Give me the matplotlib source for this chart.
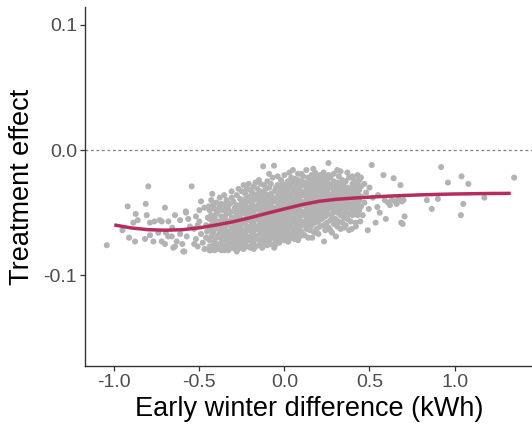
import matplotlib
matplotlib.use("Agg")
import matplotlib.pyplot as plt

plt.rcParams['font.family'] = ['Liberation Sans', 'DejaVu Sans']

# smoothed fit
curve_x = [-1.0, -0.9, -0.8, -0.7, -0.6, -0.5, -0.4, -0.3, -0.2, -0.1, 0.0, 0.1,
           0.2, 0.3, 0.4, 0.5, 0.6, 0.7, 0.8, 0.9, 1.0, 1.1, 1.2, 1.33]
curve_y = [-0.0598, -0.0622, -0.0636, -0.0640, -0.0636, -0.0621, -0.0598, -0.0572,
           -0.0540, -0.0504, -0.0470, -0.0437, -0.0410, -0.0394, -0.0384, -0.0376,
           -0.0369, -0.0363, -0.0358, -0.0354, -0.0351, -0.0349, -0.0347, -0.0346]

# household estimates
pts_left = [
    (-1.044, -0.076), (-0.952, -0.064), (-0.921, -0.045), (-0.913, -0.070), (-0.888, -0.058),
    (-0.878, -0.073), (-0.874, -0.051), (-0.862, -0.056), (-0.819, -0.071), (-0.815, -0.043),
    (-0.809, -0.052), (-0.800, -0.029), (-0.790, -0.058), (-0.790, -0.068), (-0.770, -0.073),
    (-0.764, -0.057), (-0.741, -0.066), (-0.733, -0.056), (-0.721, -0.057), (-0.721, -0.073),
    (-0.702, -0.046), (-0.702, -0.075), (-0.697, -0.066), (-0.683, -0.069), (-0.682, -0.057),
    (-0.662, -0.069), (-0.659, -0.062), (-0.653, -0.078), (-0.643, -0.052), (-0.643, -0.077),
    (-0.633, -0.073), (-0.613, -0.056), (-0.613, -0.067), (-0.600, -0.075), (-0.594, -0.081),
    (-0.588, -0.081), (-0.580, -0.049), (-0.578, -0.050), (-0.574, -0.069), (-0.565, -0.055),
    (-0.555, -0.061), (-0.545, -0.029),
]

pts_mid_left = [
    (-0.53, -0.063), (-0.52, -0.071), (-0.51, -0.077), (-0.50, -0.057), (-0.49, -0.067),
    (-0.48, -0.074), (-0.47, -0.079), (-0.50, -0.048), (-0.46, -0.060), (-0.46, -0.070),
    (-0.45, -0.054), (-0.47, -0.046), (-0.52, -0.053), (-0.44, -0.077), (-0.455, -0.065),
    (-0.49, -0.041), (-0.445, -0.045), (-0.424, -0.035), (-0.53, -0.075), (-0.51, -0.060),
    (-0.44, -0.080), (-0.44, -0.072), (-0.44, -0.064), (-0.44, -0.055), (-0.44, -0.048),
    (-0.43, -0.078), (-0.43, -0.069), (-0.43, -0.060), (-0.43, -0.052), (-0.43, -0.040),
    (-0.42, -0.076), (-0.42, -0.066), (-0.42, -0.058), (-0.42, -0.044),
    (-0.41, -0.080), (-0.41, -0.073), (-0.41, -0.063), (-0.41, -0.054), (-0.41, -0.047),
    (-0.40, -0.077), (-0.40, -0.070), (-0.40, -0.061), (-0.40, -0.051), (-0.40, -0.042),
    (-0.39, -0.079), (-0.39, -0.068), (-0.39, -0.057), (-0.39, -0.049),
    (-0.38, -0.075), (-0.38, -0.065), (-0.38, -0.059), (-0.38, -0.045), (-0.38, -0.038),
    (-0.37, -0.080), (-0.37, -0.071), (-0.37, -0.062), (-0.37, -0.053), (-0.37, -0.043),
    (-0.36, -0.076), (-0.36, -0.067), (-0.36, -0.056), (-0.36, -0.048), (-0.354, -0.036),
    (-0.35, -0.079), (-0.35, -0.072), (-0.35, -0.063), (-0.35, -0.054), (-0.35, -0.044),
    (-0.34, -0.077), (-0.34, -0.069), (-0.34, -0.060), (-0.34, -0.051), (-0.34, -0.040),
    (-0.33, -0.080), (-0.33, -0.073), (-0.33, -0.065), (-0.33, -0.057), (-0.33, -0.047),
    (-0.32, -0.075), (-0.32, -0.067), (-0.32, -0.058), (-0.32, -0.050), (-0.32, -0.043),
    (-0.31, -0.078), (-0.31, -0.070), (-0.31, -0.062), (-0.31, -0.054), (-0.31, -0.038),
    (-0.31, -0.033), (-0.28, -0.081),
    (-0.30, -0.074), (-0.30, -0.066), (-0.30, -0.059), (-0.30, -0.049), (-0.30, -0.041),
    (-0.29, -0.079), (-0.29, -0.071), (-0.29, -0.063), (-0.29, -0.055), (-0.29, -0.046),
    (-0.28, -0.076), (-0.28, -0.068), (-0.28, -0.060), (-0.28, -0.052), (-0.28, -0.044),
    (-0.28, -0.036), (-0.27, -0.073), (-0.27, -0.065), (-0.27, -0.057), (-0.27, -0.048),
    (-0.27, -0.031), (-0.26, -0.078), (-0.26, -0.070), (-0.26, -0.062), (-0.26, -0.054),
    (-0.26, -0.045), (-0.26, -0.039), (-0.25, -0.075), (-0.25, -0.067), (-0.25, -0.059),
    (-0.25, -0.050), (-0.25, -0.042), (-0.25, -0.033),
]

pts_centre = [
    (-0.24, -0.079), (-0.24, -0.071), (-0.24, -0.064), (-0.24, -0.056), (-0.24, -0.047),
    (-0.24, -0.040), (-0.24, -0.028), (-0.23, -0.074), (-0.23, -0.066), (-0.23, -0.058),
    (-0.23, -0.051), (-0.23, -0.043), (-0.23, -0.035), (-0.22, -0.077), (-0.22, -0.069),
    (-0.22, -0.061), (-0.22, -0.053), (-0.22, -0.046), (-0.22, -0.038), (-0.22, -0.031),
    (-0.21, -0.072), (-0.21, -0.064), (-0.21, -0.056), (-0.21, -0.049), (-0.21, -0.041),
    (-0.21, -0.027), (-0.20, -0.078), (-0.20, -0.070), (-0.20, -0.062), (-0.20, -0.054),
    (-0.20, -0.046), (-0.20, -0.037), (-0.20, -0.032), (-0.19, -0.075), (-0.19, -0.067),
    (-0.19, -0.059), (-0.19, -0.051), (-0.19, -0.044), (-0.19, -0.034), (-0.18, -0.073),
    (-0.18, -0.065), (-0.18, -0.057), (-0.18, -0.049), (-0.18, -0.040), (-0.18, -0.029),
    (-0.18, -0.079), (-0.17, -0.026),
    (-0.17, -0.077), (-0.17, -0.069), (-0.17, -0.061), (-0.17, -0.053), (-0.17, -0.045),
    (-0.17, -0.036), (-0.16, -0.071), (-0.16, -0.063), (-0.16, -0.055), (-0.16, -0.047),
    (-0.16, -0.039), (-0.16, -0.031), (-0.15, -0.076), (-0.15, -0.068), (-0.15, -0.060),
    (-0.15, -0.052), (-0.15, -0.043), (-0.15, -0.035), (-0.15, -0.024),
    (-0.14, -0.073), (-0.14, -0.065), (-0.14, -0.057), (-0.14, -0.049), (-0.14, -0.041),
    (-0.14, -0.033), (-0.14, -0.027), (-0.13, -0.078), (-0.13, -0.070), (-0.13, -0.062),
    (-0.13, -0.054), (-0.13, -0.046), (-0.13, -0.038), (-0.125, -0.013), (-0.12, -0.074),
    (-0.12, -0.066), (-0.12, -0.058), (-0.12, -0.050), (-0.12, -0.042), (-0.12, -0.034),
    (-0.12, -0.028), (-0.11, -0.071), (-0.11, -0.063), (-0.11, -0.055), (-0.11, -0.047),
    (-0.11, -0.039), (-0.11, -0.031), (-0.10, -0.076), (-0.10, -0.068), (-0.10, -0.060),
    (-0.10, -0.052), (-0.10, -0.044), (-0.10, -0.036), (-0.10, -0.025), (-0.09, -0.072),
    (-0.09, -0.064), (-0.09, -0.056), (-0.09, -0.048), (-0.09, -0.040), (-0.09, -0.030),
    (-0.09, -0.019),
    (-0.08, -0.075), (-0.08, -0.067), (-0.08, -0.059), (-0.08, -0.051), (-0.08, -0.043),
    (-0.08, -0.035), (-0.08, -0.027), (-0.07, -0.070), (-0.07, -0.062), (-0.07, -0.054),
    (-0.07, -0.046), (-0.07, -0.038), (-0.07, -0.022), (-0.06, -0.076), (-0.06, -0.066),
    (-0.06, -0.058), (-0.06, -0.050), (-0.06, -0.041), (-0.06, -0.033), (-0.061, -0.0125),
    (-0.05, -0.073), (-0.05, -0.064), (-0.05, -0.056), (-0.05, -0.048), (-0.05, -0.039),
    (-0.05, -0.030), (-0.055, -0.076), (-0.135, -0.077), (-0.275, -0.079), (-0.354, -0.080),
    (-0.434, -0.080), (-0.06, -0.078),
    (-0.04, -0.069), (-0.04, -0.061), (-0.04, -0.053), (-0.04, -0.045), (-0.04, -0.037),
    (-0.04, -0.028), (-0.04, -0.021), (-0.03, -0.074), (-0.03, -0.066), (-0.03, -0.058),
    (-0.03, -0.050), (-0.03, -0.042), (-0.03, -0.034), (-0.02, -0.071), (-0.02, -0.063),
    (-0.02, -0.055), (-0.02, -0.047), (-0.02, -0.039), (-0.02, -0.031), (-0.02, -0.024),
    (-0.01, -0.067), (-0.01, -0.059), (-0.01, -0.051), (-0.01, -0.043), (-0.01, -0.035),
    (-0.01, -0.027), (0.00, -0.072), (0.00, -0.064), (0.00, -0.056), (0.00, -0.048),
    (0.00, -0.040), (0.00, -0.032), (0.00, -0.020), (0.01, -0.069), (0.01, -0.061),
    (0.01, -0.053), (0.01, -0.045), (0.01, -0.037), (0.01, -0.029), (0.02, -0.073),
    (0.02, -0.065), (0.02, -0.057), (0.02, -0.049), (0.02, -0.041), (0.02, -0.033),
    (0.02, -0.025), (0.029, -0.018), (0.03, -0.068), (0.03, -0.060), (0.03, -0.052),
    (0.03, -0.044), (0.03, -0.036), (0.03, -0.028), (0.04, -0.070), (0.04, -0.062),
    (0.04, -0.054), (0.04, -0.046), (0.04, -0.038), (0.04, -0.030), (0.04, -0.022),
    (0.05, -0.066), (0.05, -0.058), (0.05, -0.050), (0.05, -0.042), (0.05, -0.034),
    (0.05, -0.026), (0.023, -0.073), (0.05, -0.016),
]

pts_mid_right = [
    (0.06, -0.071), (0.06, -0.063), (0.06, -0.055), (0.06, -0.047), (0.06, -0.039),
    (0.06, -0.031), (0.06, -0.023), (0.07, -0.067), (0.07, -0.059), (0.07, -0.051),
    (0.07, -0.043), (0.07, -0.035), (0.07, -0.027), (0.08, -0.064), (0.08, -0.056),
    (0.08, -0.048), (0.08, -0.040), (0.08, -0.032), (0.08, -0.024), (0.08, -0.019),
    (0.08, -0.072),
    (0.09, -0.069), (0.09, -0.061), (0.09, -0.053), (0.09, -0.045), (0.09, -0.037),
    (0.09, -0.029), (0.10, -0.065), (0.10, -0.057), (0.10, -0.049), (0.10, -0.041),
    (0.10, -0.033), (0.10, -0.025), (0.10, -0.019), (0.11, -0.060), (0.11, -0.052),
    (0.11, -0.044), (0.11, -0.036), (0.11, -0.028), (0.11, -0.021), (0.11, -0.068),
    (0.12, -0.068), (0.12, -0.058),
    (0.12, -0.050), (0.12, -0.042), (0.12, -0.034), (0.12, -0.026), (0.13, -0.063),
    (0.13, -0.055), (0.13, -0.047), (0.13, -0.039), (0.13, -0.031), (0.129, -0.016),
    (0.14, -0.070), (0.14, -0.059), (0.14, -0.051), (0.14, -0.043), (0.14, -0.035),
    (0.14, -0.027), (0.14, -0.022), (0.15, -0.064), (0.15, -0.056), (0.15, -0.048),
    (0.15, -0.040), (0.15, -0.032), (0.15, -0.024), (0.163, -0.070),
    (0.16, -0.060), (0.16, -0.052), (0.16, -0.044), (0.16, -0.036), (0.16, -0.028),
    (0.16, -0.020), (0.17, -0.065), (0.17, -0.055), (0.17, -0.047), (0.17, -0.039),
    (0.17, -0.031), (0.17, -0.023), (0.17, -0.015), (0.18, -0.058), (0.18, -0.050),
    (0.18, -0.042), (0.18, -0.066),
    (0.18, -0.034), (0.18, -0.026), (0.18, -0.018), (0.19, -0.063), (0.19, -0.053),
    (0.19, -0.045), (0.19, -0.037), (0.19, -0.029), (0.19, -0.021), (0.20, -0.067),
    (0.20, -0.057), (0.20, -0.049), (0.20, -0.041), (0.20, -0.033), (0.20, -0.025),
    (0.21, -0.061), (0.21, -0.052), (0.21, -0.044), (0.21, -0.036), (0.21, -0.028),
    (0.21, -0.020), (0.22, -0.055), (0.22, -0.047), (0.22, -0.039), (0.22, -0.031),
    (0.22, -0.023), (0.233, -0.073), (0.23, -0.060), (0.23, -0.050), (0.23, -0.042),
    (0.23, -0.034), (0.23, -0.026), (0.23, -0.018), (0.24, -0.064), (0.24, -0.053),
    (0.24, -0.045), (0.24, -0.037), (0.24, -0.029), (0.24, -0.022), (0.25, -0.058),
    (0.25, -0.048), (0.25, -0.040), (0.25, -0.032), (0.25, -0.024),
    (0.26, -0.062), (0.26, -0.051), (0.26, -0.043), (0.26, -0.035), (0.26, -0.027),
    (0.259, -0.0104), (0.26, -0.020), (0.27, -0.056), (0.27, -0.046), (0.27, -0.038),
    (0.27, -0.030), (0.27, -0.022), (0.27, -0.064), (0.28, -0.066), (0.28, -0.053),
    (0.28, -0.044),
    (0.28, -0.036), (0.28, -0.028), (0.29, -0.059), (0.29, -0.049), (0.29, -0.041),
    (0.29, -0.033), (0.29, -0.025), (0.29, -0.019), (0.303, -0.069), (0.30, -0.055),
    (0.30, -0.045), (0.30, -0.037), (0.30, -0.029), (0.31, -0.061), (0.31, -0.050),
    (0.31, -0.042), (0.31, -0.034), (0.31, -0.026), (0.31, -0.016), (0.32, -0.057),
    (0.32, -0.047),
    (0.32, -0.039), (0.32, -0.031), (0.32, -0.021), (0.33, -0.063), (0.33, -0.052),
    (0.33, -0.043), (0.33, -0.035), (0.33, -0.027), (0.33, -0.017), (0.34, -0.058),
    (0.34, -0.048),
    (0.34, -0.040), (0.34, -0.032), (0.34, -0.024), (0.35, -0.054), (0.35, -0.045),
    (0.35, -0.037), (0.35, -0.029), (0.35, -0.062),
    (0.36, -0.060), (0.36, -0.050), (0.36, -0.041), (0.36, -0.033), (0.36, -0.025),
    (0.37, -0.055), (0.37, -0.046), (0.37, -0.038), (0.37, -0.030), (0.37, -0.018),
    (0.38, -0.064),
    (0.38, -0.051), (0.38, -0.043), (0.38, -0.035), (0.38, -0.022), (0.39, -0.057),
    (0.39, -0.047), (0.39, -0.039), (0.39, -0.031), (0.396, -0.063), (0.40, -0.052),
    (0.40, -0.044), (0.40, -0.036), (0.40, -0.027), (0.40, -0.021), (0.41, -0.049),
    (0.41, -0.041),
    (0.41, -0.033), (0.41, -0.024), (0.42, -0.058), (0.42, -0.046), (0.42, -0.038),
    (0.42, -0.030), (0.42, -0.061), (0.43, -0.052), (0.43, -0.043), (0.43, -0.035),
    (0.43, -0.027),
    (0.43, -0.020), (0.44, -0.048), (0.44, -0.040), (0.44, -0.032), (0.44, -0.024),
    (0.446, -0.057),
    (0.45, -0.045), (0.45, -0.037), (0.45, -0.029), (0.45, -0.022),
]

pts_right = [
    (0.46, -0.052), (0.47, -0.042), (0.47, -0.027), (0.48, -0.034), (0.490, -0.064),
    (0.496, -0.047), (0.50, -0.030), (0.513, -0.012), (0.52, -0.038), (0.536, -0.058),
    (0.546, -0.0455), (0.55, -0.036), (0.56, -0.050), (0.582, -0.020), (0.59, -0.040),
    (0.596, -0.055), (0.61, -0.042), (0.62, -0.044), (0.63, -0.040), (0.642, -0.0225),
    (0.65, -0.041), (0.66, -0.043), (0.67, -0.039), (0.682, -0.028), (0.686, -0.058),
    (0.69, -0.041), (0.695, -0.059), (0.70, -0.040), (0.706, -0.053),
    (0.837, -0.040), (0.866, -0.047), (0.902, -0.039), (0.921, -0.0136), (0.961, -0.026),
    (1.037, -0.052), (1.041, -0.021), (1.051, -0.043), (1.081, -0.027), (1.175, -0.038),
    (1.350, -0.022),
]

x_ticks = [-1.0, -0.5, 0.0, 0.5, 1.0]
x_tick_labels = ['-1.0', '-0.5', '0.0', '0.5', '1.0']
y_ticks = [-0.1, 0.0, 0.1]
y_tick_labels = ['-0.1', '0.0', '0.1']

all_pts = pts_left + pts_mid_left + pts_centre + pts_mid_right + pts_right
px = [p[0] for p in all_pts]
py = [p[1] for p in all_pts]

fig = plt.figure(figsize=(5.32, 4.33), dpi=100)
ax = fig.add_axes([0.1607, 0.1547, 0.8393, 0.8284])

ax.axhline(0, color='#7f7f7f', lw=0.9, ls=(0, (2.2, 2.2)), zorder=1)
ax.scatter(px, py, s=19, color='#b3b3b3', edgecolors='none', zorder=2)
ax.plot(curve_x, curve_y, color='#b52d5f', lw=2.5, solid_capstyle='butt', zorder=3)

ax.set_xlim(-1.169, 1.455)
ax.set_ylim(-0.1724, 0.1139)
ax.set_xticks(x_ticks)
ax.set_xticklabels(x_tick_labels)
ax.set_yticks(y_ticks)
ax.set_yticklabels(y_tick_labels)

for side in ['top', 'right']:
    ax.spines[side].set_visible(False)
for side in ['left', 'bottom']:
    ax.spines[side].set_color('#333333')
    ax.spines[side].set_linewidth(1.0)

ax.tick_params(axis='both', length=3.5, width=0.9, color='#333333',
               labelcolor='#4d4d4d', labelsize=14, pad=2.5)

ax.set_xlabel('Early winter difference (kWh)', fontsize=19.5, color='black', labelpad=3)
ax.set_ylabel('Treatment effect', fontsize=19.5, color='black', labelpad=6)

fig.savefig('out.png', dpi=100)
